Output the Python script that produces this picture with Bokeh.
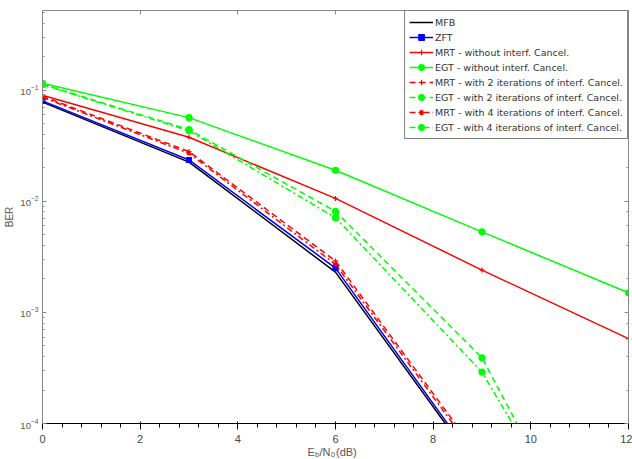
from bokeh.plotting import figure
from bokeh.layouts import column
from bokeh.models import Range1d, LogAxis, LinearAxis, Legend, FixedTicker, CustomJSTickFormatter, ColumnDataSource
from bokeh.core.properties import value
from bokeh.embed import file_html
from bokeh.resources import INLINE

snr = [0, 3, 6, 9, 12]
snr_short = [0, 3, 6, 9]
mfb = [0.078, 0.0225, 0.0023, 3.5e-5]
zft = [0.080, 0.0235, 0.0025, 3.7e-5]
mrt_0 = [0.090, 0.0376, 0.0106, 0.0024, 0.00058]
egt_0 = [0.115, 0.0565, 0.019, 0.0053, 0.0015]
mrt_2 = [0.088, 0.028, 0.0029, 4.7e-5]
egt_2 = [0.113, 0.044, 0.0081, 0.00039, 1.3e-6]
mrt_4 = [0.086, 0.027, 0.0027, 4.4e-5]
egt_4 = [0.112, 0.043, 0.0071, 0.00029, 1.7e-6]
x_ticks = [0, 2, 4, 6, 8, 10, 12]
labels = ["MFB", "ZFT", "MRT - without interf. Cancel.", "EGT - without interf. Cancel.",
          "MRT - with 2 iterations of interf. Cancel.", "EGT - with 2 iterations of interf. Cancel.",
          "MRT - with 4 iterations of interf. Cancel.", "EGT - with 4 iterations of interf. Cancel."]
xlabel_parts = ["E", "b", "/N", "0", "(dB)"]
ylabel = "BER"

FONT = "Liberation Sans"
LFONT = "DejaVu Sans"
GRAY = "#888888"
TXT = "#555555"
p = figure(width=632, height=445, y_axis_type="log", output_backend="svg", toolbar_location=None,
           x_range=Range1d(0, 12), y_range=Range1d(1e-4, 0.52),
           min_border_left=42, min_border_right=4, min_border_top=10, min_border_bottom=19)
p.grid.visible = False
p.outline_line_color = GRAY

ax_r = LogAxis()
ax_t = LinearAxis()
p.add_layout(ax_r, "right")
p.add_layout(ax_t, "above")
blank = CustomJSTickFormatter(code="return '';")
for ax in [p.xaxis[0], p.yaxis[0], ax_r, ax_t]:
    ax.major_tick_in = 4
    ax.major_tick_out = 0
    ax.minor_tick_in = 2
    ax.minor_tick_out = 0
    ax.axis_line_color = GRAY
    ax.major_tick_line_color = GRAY
    ax.minor_tick_line_color = GRAY
    ax.major_label_text_font = FONT
    ax.major_label_text_font_size = "9.5px"
    ax.major_label_text_color = TXT
    ax.major_label_standoff = 4
p.xaxis[0].major_label_standoff = 2
for ax in [ax_r, ax_t]:
    ax.formatter = blank
    ax.major_label_standoff = 0
    ax.major_label_text_font_size = "1px"
p.xaxis[0].ticker = FixedTicker(ticks=x_ticks)
ax_t.ticker = FixedTicker(ticks=x_ticks)
p.yaxis[0].axis_label = ylabel
p.yaxis[0].axis_label_text_font = FONT
p.yaxis[0].axis_label_text_font_size = "10px"
p.yaxis[0].axis_label_text_font_style = "normal"
p.yaxis[0].axis_label_text_color = TXT
p.yaxis[0].axis_label_standoff = 2

items = []
def add(x, y, color, dash, marker, label, msize=5):
    r = [p.line(x, y, line_color=color, line_width=1.5, line_dash=dash)]
    if marker:
        r.append(p.scatter(x, y, marker=marker, size=msize, line_color=color, fill_color=color, line_width=1.2))
    items.append((label, r))

add(snr_short, mfb, "black", "solid", None, labels[0])
add(snr_short, zft, "blue", "solid", "square", labels[1], 5)
add(snr, mrt_0, "red", "solid", "cross", labels[2], 5)
add(snr, egt_0, "#00ff00", "solid", "circle", labels[3], 6)
add(snr_short, mrt_2, "red", "6 4", "cross", labels[4], 5)
add(snr, egt_2, "#00ff00", "6 4", "circle", labels[5], 6)
add(snr_short, mrt_4, "red", "6 3 2 3", "asterisk", labels[6], 5)
add(snr, egt_4, "#00ff00", "6 3 2 3", "circle", labels[7], 6)

legend = Legend(items=items, location="top_right", label_text_font=LFONT, label_text_font_size="9.5px",
                label_text_color="#333333",
                label_height=14, glyph_height=14, glyph_width=24, label_standoff=2, spacing=1,
                padding=4, margin=0, border_line_color="black", border_line_width=1,
                background_fill_alpha=1.0)
p.add_layout(legend, "center")

# x-axis title strip with subscripts; its frame is aligned with the main frame (page px 42..628)
q = figure(width=632, height=14, output_backend="svg", toolbar_location=None,
           x_axis_location=None, y_axis_location=None,
           x_range=Range1d(42, 628), y_range=Range1d(0, 14),
           min_border=0, min_border_left=42, min_border_right=4, min_border_top=0, min_border_bottom=0)
q.grid.visible = False
q.outline_line_color = None
src = ColumnDataSource(dict(t=xlabel_parts, x=[307, 314.5, 319, 330.5, 335.5], y=[7.5, 5, 7.5, 5, 7.5],
                            fs=["11px", "7.5px", "11px", "7.5px", "11px"]))
q.text(x="x", y="y", text="t", source=src, text_font=value(FONT), text_font_size="fs",
       text_color=TXT, text_align="left", text_baseline="alphabetic")

open("out.html", "w").write(file_html(column(p, q, spacing=0), INLINE))
